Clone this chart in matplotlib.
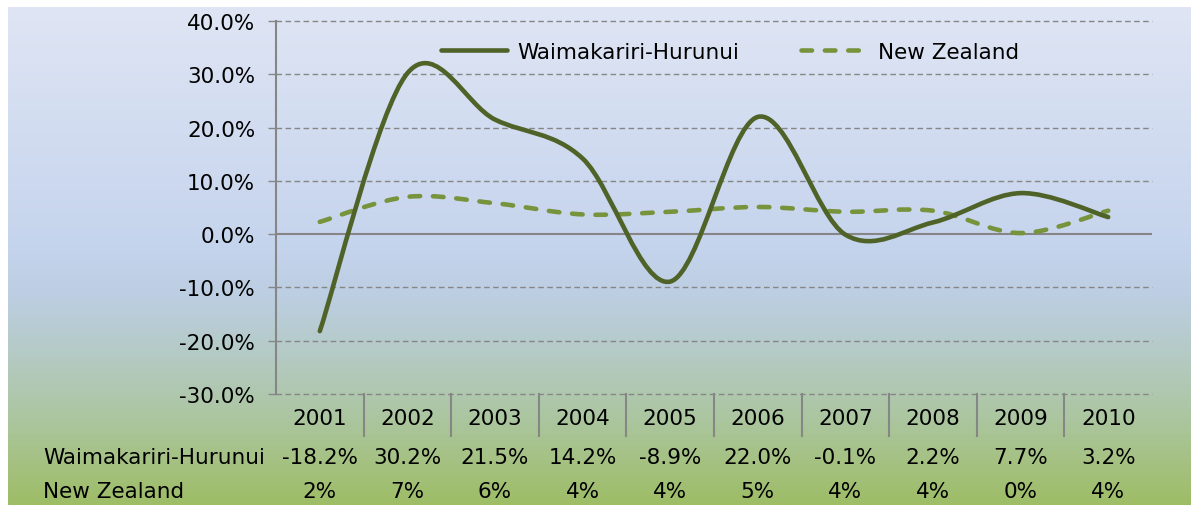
import matplotlib
matplotlib.use("Agg")
import matplotlib.pyplot as plt
from matplotlib.path import Path
from matplotlib.patches import PathPatch
from matplotlib.lines import Line2D
from matplotlib.colors import LinearSegmentedColormap
import numpy as np

years = ["2001", "2002", "2003", "2004", "2005", "2006", "2007", "2008", "2009", "2010"]
waimak = [-18.2, 30.2, 21.5, 14.2, -8.9, 22.0, -0.1, 2.2, 7.7, 3.2]
nz = [2.3, 7.0, 5.8, 3.7, 4.2, 5.1, 4.2, 4.4, 0.2, 4.4]
yticks = [-30, -20, -10, 0, 10, 20, 30, 40]
series_names = ["Waimakariri-Hurunui", "New Zealand"]

FS = 15.5
dark = "#4f6228"
light = "#77933c"
grey = "#868686"

fig = plt.figure(figsize=(11.91, 5.06), dpi=100)
fig.patch.set_facecolor("white")

# gradient background
bg = fig.add_axes([8 / 1191, 0, 1 - 8 / 1191, 498 / 506], zorder=-10)
cmap = LinearSegmentedColormap.from_list("bg", [
    (0.0, (223 / 255, 229 / 255, 244 / 255)),
    (0.48, (197 / 255, 212 / 255, 237 / 255)),
    (0.58, (188 / 255, 206 / 255, 226 / 255)),
    (0.70, (180 / 255, 202 / 255, 196 / 255)),
    (0.82, (172 / 255, 198 / 255, 162 / 255)),
    (1.0, (158 / 255, 189 / 255, 102 / 255)),
])
bg.imshow(np.linspace(0, 1, 256).reshape(-1, 1), cmap=cmap, aspect="auto",
          extent=[0, 1, 0, 1])
bg.set_axis_off()

ax = fig.add_axes([276 / 1191, 1 - 395 / 506, 876 / 1191, 373 / 506])
ax.set_facecolor("none")
ax.set_xlim(-0.5, len(years) - 0.5)
ax.set_ylim(-30, 40)


def smooth_path(ys):
    xs = list(range(len(ys)))
    n = len(ys)
    verts = [(xs[0], ys[0])]
    codes = [Path.MOVETO]
    for i in range(n - 1):
        a = i - 1 if i > 0 else 0
        b = i + 2 if i + 2 < n else n - 1
        c1 = (xs[i] + (xs[i + 1] - xs[a]) / 6, ys[i] + (ys[i + 1] - ys[a]) / 6)
        c2 = (xs[i + 1] - (xs[b] - xs[i]) / 6, ys[i + 1] - (ys[b] - ys[i]) / 6)
        verts += [c1, c2, (xs[i + 1], ys[i + 1])]
        codes += [Path.CURVE4] * 3
    return Path(verts, codes)


# grid
for t in yticks:
    if t == 0:
        continue
    ax.axhline(t, color=grey, lw=1.0, ls=(0, (4, 2.5)), zorder=1, clip_on=False)
ax.axhline(0, color=grey, lw=1.5, zorder=1)

lw = 3.3
p1 = PathPatch(smooth_path(waimak), fill=False, edgecolor=dark, lw=lw,
               capstyle="round", joinstyle="round", zorder=4)
p2 = PathPatch(smooth_path(nz), fill=False, edgecolor=light, lw=lw,
               linestyle=(0, (2.3, 2.8)), capstyle="round", zorder=3)
ax.add_patch(p1)
ax.add_patch(p2)

for s in ["top", "right", "bottom"]:
    ax.spines[s].set_visible(False)
ax.spines["left"].set_color(grey)
ax.spines["left"].set_linewidth(1.5)

ax.set_yticks(yticks)
ax.set_yticklabels(["%.1f%%" % t for t in yticks], fontsize=FS)
ax.tick_params(axis="y", length=6, width=1, color=grey, pad=9)
ax.set_xticks([])

# legend
h1 = Line2D([], [], color=dark, lw=lw, solid_capstyle="round")
h2 = Line2D([], [], color=light, lw=lw, ls=(0, (2.3, 2.8)), dash_capstyle="round")
ax.legend([h1, h2], series_names, loc="center", bbox_to_anchor=(0.518, 0.917),
          ncol=2, frameon=False, fontsize=FS, handlelength=3.1,
          handletextpad=0.45, columnspacing=2.9, borderpad=0)

# data table
tr = ax.get_xaxis_transform()
for i, y in enumerate(years):
    ax.text(i, -0.064, y, transform=tr, ha="center", va="center", fontsize=FS)
    ax.text(i, -0.169, "%.1f%%" % waimak[i], transform=tr, ha="center",
            va="center", fontsize=FS)
    ax.text(i, -0.260, "%.0f%%" % nz[i], transform=tr, ha="center",
            va="center", fontsize=FS)
for i in range(len(years) - 1):
    ax.plot([i + 0.5, i + 0.5], [0, -0.113], transform=tr, color=grey,
            lw=1.5, clip_on=False)

fig.text(43 / 1191, 1 - 458 / 506, series_names[0], ha="left", va="center",
         fontsize=FS)
fig.text(43 / 1191, 1 - 492 / 506, series_names[1], ha="left", va="center",
         fontsize=FS)

fig.savefig("out.png", dpi=100)
